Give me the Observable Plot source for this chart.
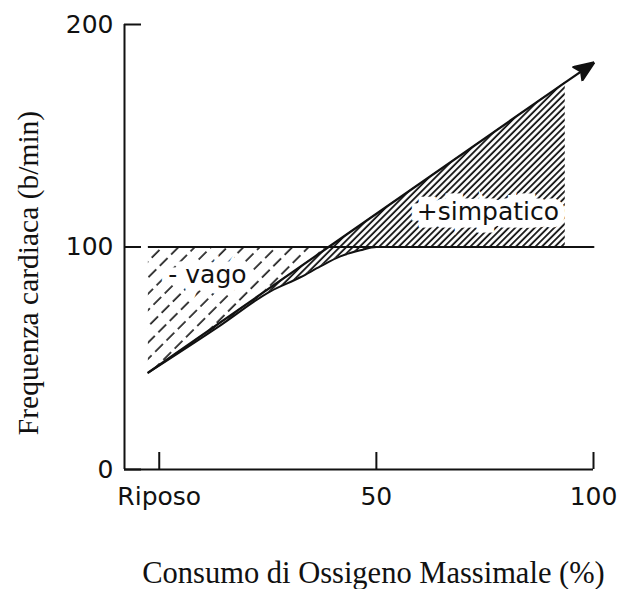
<!DOCTYPE html>
<html><head><meta charset="utf-8">
<script src="https://cdn.jsdelivr.net/npm/d3@7"></script>
<script src="https://cdn.jsdelivr.net/npm/@observablehq/plot@0.6"></script>
<style>html,body{margin:0;padding:0;background:#fff}</style>
</head><body><div id="chart"></div>
<script>
// ---- data ----
const xDomain = [-8, 100];
const yDomain = [0, 200];
const xTicks = [0, 50, 100];
const xTickLabels = ["Riposo", "50", "100"];
const yTicks = [0, 100, 200];
const xTitle = "Consumo di Ossigeno Massimale (%)";
const yTitle = "Frequenza cardiaca (b/min)";
// straight line with arrow (heart rate)
const diagX = [-2.5, 39, 93.5, 100];
const diagY = [43.6, 100, 174, 182.7];
// curved line (intrinsic rate, levelling at 100)
const curveX = [-2.5, 14.1, 25.6, 32.5, 37.1, 41.7, 46.3, 50, 100];
const curveY = [43.6, 64.8, 80.1, 86.4, 91.3, 95.8, 98.5, 100, 100];
const restLevel = 100;
const restStartX = -2.5;
const hatchEndX = 93.5;
const labelText = ["- vago", "+simpatico"];
const labelX = [11.1, 75.7];
const labelY = [87.3, 115.6];

// ---- tables built from the arrays ----
const diag = diagX.map((x, i) => ({x, y: diagY[i]}));
const curvePts = curveX.map((x, i) => ({x, y: curveY[i]}));
const labels = labelText.map((t, i) => ({t, x: labelX[i], y: labelY[i]}));
const ink = "#111";

function filledArrow(color, context) {
  const doc = (context && context.document) || document;
  const m = doc.createElementNS("http://www.w3.org/2000/svg", "marker");
  m.setAttribute("viewBox", "-21 -9 22 18");
  m.setAttribute("markerWidth", 22);
  m.setAttribute("markerHeight", 18);
  m.setAttribute("markerUnits", "userSpaceOnUse");
  m.setAttribute("refX", 0);
  m.setAttribute("refY", 0);
  m.setAttribute("orient", "auto");
  const p = doc.createElementNS("http://www.w3.org/2000/svg", "path");
  p.setAttribute("d", "M1,0L-19,-8L-15,0L-19,8Z");
  p.setAttribute("fill", color);
  m.appendChild(p);
  return m;
}

const tickFont = "DejaVu Sans";
const titleFont = "Liberation Serif";

const svg = Plot.plot({
  width: 621,
  height: 589,
  marginLeft: 124,
  marginRight: 28,
  marginTop: 24,
  marginBottom: 120,
  x: {domain: xDomain, axis: null},
  y: {domain: yDomain, axis: null},
  style: {background: "white", color: ink, overflow: "visible"},
  marks: [
    // dense hatch under the straight line (down to the resting rate), then white under the curve
    Plot.areaY(diag.filter(d => d.x <= hatchEndX), {x: "x", y1: curveY[0], y2: "y", fill: "url(#hatchSimp)"}),
    Plot.areaY(curvePts, {x: "x", y: "y", fill: "white", curve: "monotone-x"}),
    // vagal region between straight line and rest level
    Plot.areaY(diag.filter(d => d.y <= restLevel), {x: "x", y1: "y", y2: restLevel, fill: "url(#hatchVago)"}),
    // labels on white boxes
    Plot.text(labels, {x: "x", y: "y", text: "t", fontSize: 25, fontFamily: tickFont,
      fill: ink, stroke: "white", strokeWidth: 15, strokeLinejoin: "miter", paintOrder: "stroke",
      textAnchor: "middle", lineAnchor: "middle"}),
    // rest level line
    Plot.ruleY([restLevel], {x1: restStartX, x2: xDomain[1], stroke: ink, strokeWidth: 2}),
    // curve
    Plot.line(curvePts, {x: "x", y: "y", curve: "monotone-x", stroke: ink, strokeWidth: 2}),
    // straight line with arrow
    Plot.line(diag, {x: "x", y: "y", stroke: ink, strokeWidth: 2.2, markerEnd: filledArrow}),
    // axis lines
    Plot.ruleX([xDomain[0]], {stroke: ink, strokeWidth: 2}),
    Plot.ruleY([yDomain[0]], {stroke: ink, strokeWidth: 2}),
    // inward ticks
    Plot.axisX(xTicks, {tickSize: 17, dy: -17, text: null, label: null, stroke: ink, strokeWidth: 2}),
    Plot.axisY(yTicks, {tickSize: 17, dx: 17, text: null, label: null, stroke: ink, strokeWidth: 2}),
    // tick labels
    Plot.axisX(xTicks, {tickSize: 0, tickPadding: 18, label: null, fontSize: 25, fontFamily: tickFont,
      tickFormat: d => xTickLabels[xTicks.indexOf(d)]}),
    Plot.axisY(yTicks, {tickSize: 0, tickPadding: 11, label: null, fontSize: 25, fontFamily: tickFont}),
    // axis titles
    Plot.text([yTitle], {text: d => d, frameAnchor: "left", rotate: -90, dx: -96, dy: 26,
      fontSize: 29.5, fontFamily: titleFont, textAnchor: "middle", lineAnchor: "middle", fill: ink}),
    Plot.text([xTitle], {text: d => d, frameAnchor: "bottom", dx: 14.5, dy: 104,
      fontSize: 30.5, fontFamily: titleFont, textAnchor: "middle", lineAnchor: "middle", fill: ink})
  ]
});

const defs = d3.select(svg).insert("defs", ":first-child");
const pv = defs.append("pattern").attr("id", "hatchVago").attr("patternUnits", "userSpaceOnUse")
  .attr("width", 11.5).attr("height", 16).attr("patternTransform", "rotate(45)");
pv.append("line").attr("x1", 2).attr("y1", 0).attr("x2", 2).attr("y2", 11)
  .attr("stroke", ink).attr("stroke-width", 1.6);
const ps = defs.append("pattern").attr("id", "hatchSimp").attr("patternUnits", "userSpaceOnUse")
  .attr("width", 4.6).attr("height", 10).attr("patternTransform", "rotate(45)");
ps.append("line").attr("x1", 1).attr("y1", 0).attr("x2", 1).attr("y2", 10)
  .attr("stroke", ink).attr("stroke-width", 1.8);

document.getElementById("chart").appendChild(svg);
</script>
</body></html>
